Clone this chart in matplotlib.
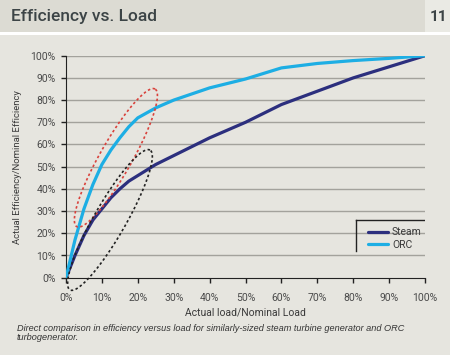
import numpy as np
import matplotlib
matplotlib.use("Agg")
import matplotlib.pyplot as plt
from matplotlib.lines import Line2D

plt.rcParams['font.family'] = ['Roboto', 'DejaVu Sans']

load = [0, 2.5, 5, 7.5, 10, 12.5, 15, 17.5, 20, 25, 30, 40, 50, 60, 70, 80, 90, 100]
steam = [0, 10, 19, 26, 31, 36, 40, 43.5, 46, 51, 55, 63, 70, 78, 84, 90, 95, 100]
orc = [0, 17, 31, 42, 51, 57.5, 63, 68, 72, 76.5, 80, 85.5, 89.5, 94.5, 96.5, 97.8, 98.8, 100]

x_ticks = list(range(0, 101, 10))
y_ticks = list(range(0, 101, 10))

# highlight ellipses: major axis ends (load %, eff %) and minor width in px
red_ends = [(3.0, 23.0), (24.8, 85.0)]
black_ends = [(1.1, -5.5), (23.4, 57.5)]
red_width = 32
black_width = 32

bg = '#e6e5df'
fig = plt.figure(figsize=(4.5, 3.55), dpi=100)
fig.patch.set_facecolor(bg)

# header band
fig.patches.append(plt.Rectangle((0, 1 - 32 / 355), 1, 32 / 355, transform=fig.transFigure,
                                 facecolor='#dcdbd3', edgecolor='none'))
fig.patches.append(plt.Rectangle((0, 1 - 35 / 355), 1, 3 / 355, transform=fig.transFigure,
                                 facecolor='white', edgecolor='none'))
fig.patches.append(plt.Rectangle((425 / 450, 1 - 32 / 355), 25 / 450, 32 / 355,
                                 transform=fig.transFigure, facecolor='#eaeae4', edgecolor='none'))
fig.text(11 / 450, 1 - 17 / 355, 'Efficiency vs. Load', fontsize=12.5, color='#3c4446',
         va='center', ha='left', fontweight='medium')
fig.text(438 / 450, 1 - 17 / 355, '11', fontsize=11, color='#3c4446', fontweight='bold',
         va='center', ha='center')

ax = fig.add_axes([66 / 450, 1 - 277.7 / 355, 359 / 450, 222 / 355])
ax.set_facecolor(bg)
ax.set_xlim(0, 100)
ax.set_ylim(0, 100)

for y in y_ticks[1:]:
    ax.axhline(y, color='#a3a29c', lw=1, zorder=1)

ax.plot(load, steam, color='#2c2f7e', lw=2.3, label='Steam', zorder=3, solid_capstyle='round')
ax.plot(load, orc, color='#1daee4', lw=2.3, label='ORC', zorder=3, solid_capstyle='round')


def draw_ellipse(ends, width, color):
    p = ax.transData.transform(np.array(ends))
    c = p.mean(axis=0)
    d = p[1] - p[0]
    a = np.hypot(*d) / 2
    u = d / np.hypot(*d)
    v = np.array([-u[1], u[0]])
    t = np.linspace(0, 2 * np.pi, 200)
    pts = c + np.outer(np.cos(t) * a, u) + np.outer(np.sin(t) * width / 2, v)
    dat = ax.transData.inverted().transform(pts)
    ax.plot(dat[:, 0], dat[:, 1], color=color, lw=1.2, ls=(0, (1.5, 1.5)),
            clip_on=False, zorder=4)


draw_ellipse(red_ends, red_width, '#d9423c')
draw_ellipse(black_ends, black_width, '#222222')

for s in ['top', 'right']:
    ax.spines[s].set_visible(False)
ax.spines['left'].set_color('#222222')
ax.spines['bottom'].set_color('#222222')
ax.set_xticks(x_ticks)
ax.set_yticks(y_ticks)
ax.set_xticklabels([f'{v}%' for v in x_ticks])
ax.set_yticklabels([f'{v}%' for v in y_ticks])
ax.tick_params(labelsize=7.5, colors='#222222', labelcolor='#4a4a4a', length=3.8, width=1)
ax.tick_params(axis='x', pad=7.5)
ax.tick_params(axis='y', pad=3.5)
ax.set_xlabel('Actual load/Nominal Load', fontsize=7.5, color='#3a3a3a', labelpad=3)
ax.set_ylabel('Actual Efficiency/Nominal Efficiency', fontsize=6.8, color='#3a3a3a', labelpad=6)

leg = ax.legend(loc='upper left', bbox_to_anchor=(0.83, 0.245), frameon=False, fontsize=7.5,
                handlelength=1.9, handletextpad=0.4, borderaxespad=0, labelspacing=0.25,
                labelcolor='#3a3a3a')
ax.add_line(Line2D([0.808, 0.808], [0.12, 0.26], transform=ax.transAxes, color='#222222', lw=1))
ax.add_line(Line2D([0.808, 1.0], [0.26, 0.26], transform=ax.transAxes, color='#222222', lw=1))

fig.text(17 / 450, 1 - 333 / 355,
         'Direct comparison in efficiency versus load for similarly-sized steam turbine generator and ORC\nturbogenerator.',
         fontsize=6.6, style='italic', color='#333333', va='center', ha='left',
         family=['Liberation Sans'], linespacing=0.95)

fig.savefig('out.png', dpi=100, facecolor=fig.get_facecolor())
